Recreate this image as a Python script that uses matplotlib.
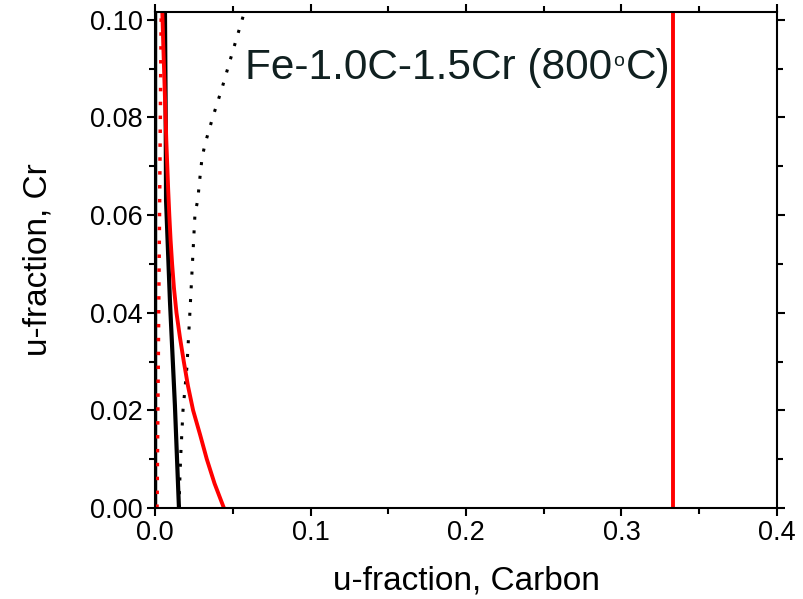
import numpy as np
import matplotlib
matplotlib.use("Agg")
import matplotlib.pyplot as plt
from matplotlib.ticker import MultipleLocator

plt.rcParams["font.family"] = ["Liberation Sans", "DejaVu Sans"]

# red solid boundary
red_x = [0.0443, 0.0383, 0.0333, 0.0290, 0.0245, 0.0212, 0.0185, 0.0160, 0.0138,
         0.0122, 0.0110, 0.0100, 0.0092, 0.0085, 0.0079, 0.0073, 0.0068, 0.0063,
         0.0058, 0.0053, 0.0047]
red_y = [0.0, 0.005, 0.010, 0.015, 0.020, 0.025, 0.030, 0.035, 0.040,
         0.045, 0.050, 0.055, 0.060, 0.065, 0.070, 0.075, 0.080, 0.085,
         0.090, 0.095, 0.1016]

# black solid boundary
blk_x = [0.0154, 0.0128, 0.0096, 0.0071, 0.0068, 0.0064]
blk_y = [0.0, 0.021, 0.0424, 0.063, 0.0837, 0.1016]

# black dotted boundary
dot_x = [0.0154, 0.0161, 0.0167, 0.0180, 0.0205, 0.0225, 0.0257, 0.0276, 0.0283,
         0.0302, 0.0321, 0.0373, 0.0430, 0.0482, 0.0533, 0.0575]
dot_y = [0.0, 0.0071, 0.0118, 0.0200, 0.0288, 0.0404, 0.0602, 0.0633, 0.0659,
         0.0716, 0.0745, 0.0802, 0.0859, 0.0916, 0.0971, 0.1016]

# red dotted boundary (near x=0)
rdot_x = [0.0013, 0.0040]
rdot_y = [0.0, 0.1016]

# cementite composition (u_C = 1/3)
cem_x = [1 / 3, 1 / 3]
cem_y = [0.0, 0.1016]

fig = plt.figure(figsize=(8.04, 5.99), dpi=100)
ax = fig.add_axes([0.1928, 0.152, 0.7736, 0.828])

ax.plot([0, 0], [0, 0.1016], color="black", lw=2.5)
ax.plot(rdot_x, rdot_y, color="red", lw=2.5, ls=(0, (1, 3)))
ax.plot(blk_x, blk_y, color="black", lw=3)
ax.plot(dot_x, dot_y, color="black", lw=2.2, ls=(0, (1, 3.5)))
ax.plot(red_x, red_y, color="red", lw=2.8)
ax.plot(cem_x, cem_y, color="red", lw=2.8)

ax.set_xlim(0, 0.4)
ax.set_ylim(0, 0.1016)
ax.xaxis.set_major_locator(MultipleLocator(0.1))
ax.xaxis.set_minor_locator(MultipleLocator(0.05))
ax.yaxis.set_major_locator(MultipleLocator(0.02))
ax.yaxis.set_minor_locator(MultipleLocator(0.01))
ax.xaxis.set_major_formatter(lambda v, p: f"{v:.1f}")
ax.yaxis.set_major_formatter(lambda v, p: f"{v:.2f}")
ax.tick_params(which="both", direction="out", top=True, right=True,
               labelsize=19.5, width=1.5, pad=3)
ax.tick_params(which="major", length=6)
ax.tick_params(which="minor", length=4)
for s in ax.spines.values():
    s.set_linewidth(1.5)

ax.set_xlabel("u-fraction, Carbon", fontsize=24, labelpad=14)
ax.set_ylabel("u-fraction, Cr", fontsize=24, labelpad=26)

# title with a small raised "o"
t1 = ax.text(0.0578, 0.0879, "Fe-1.0C-1.5Cr (800", fontsize=30.5,
             color="#102020", va="baseline", ha="left")
t2 = ax.annotate("o", xy=(1, 0), xycoords=t1, xytext=(1, 13),
                 textcoords="offset points", fontsize=14, color="#102020",
                 va="bottom", ha="left")
ax.annotate("C)", xy=(1, 0), xycoords=(t2, t1), xytext=(1, 0),
            textcoords="offset points", fontsize=30.5, color="#102020",
            va="bottom", ha="left")

fig.savefig("out.png", dpi=100)
